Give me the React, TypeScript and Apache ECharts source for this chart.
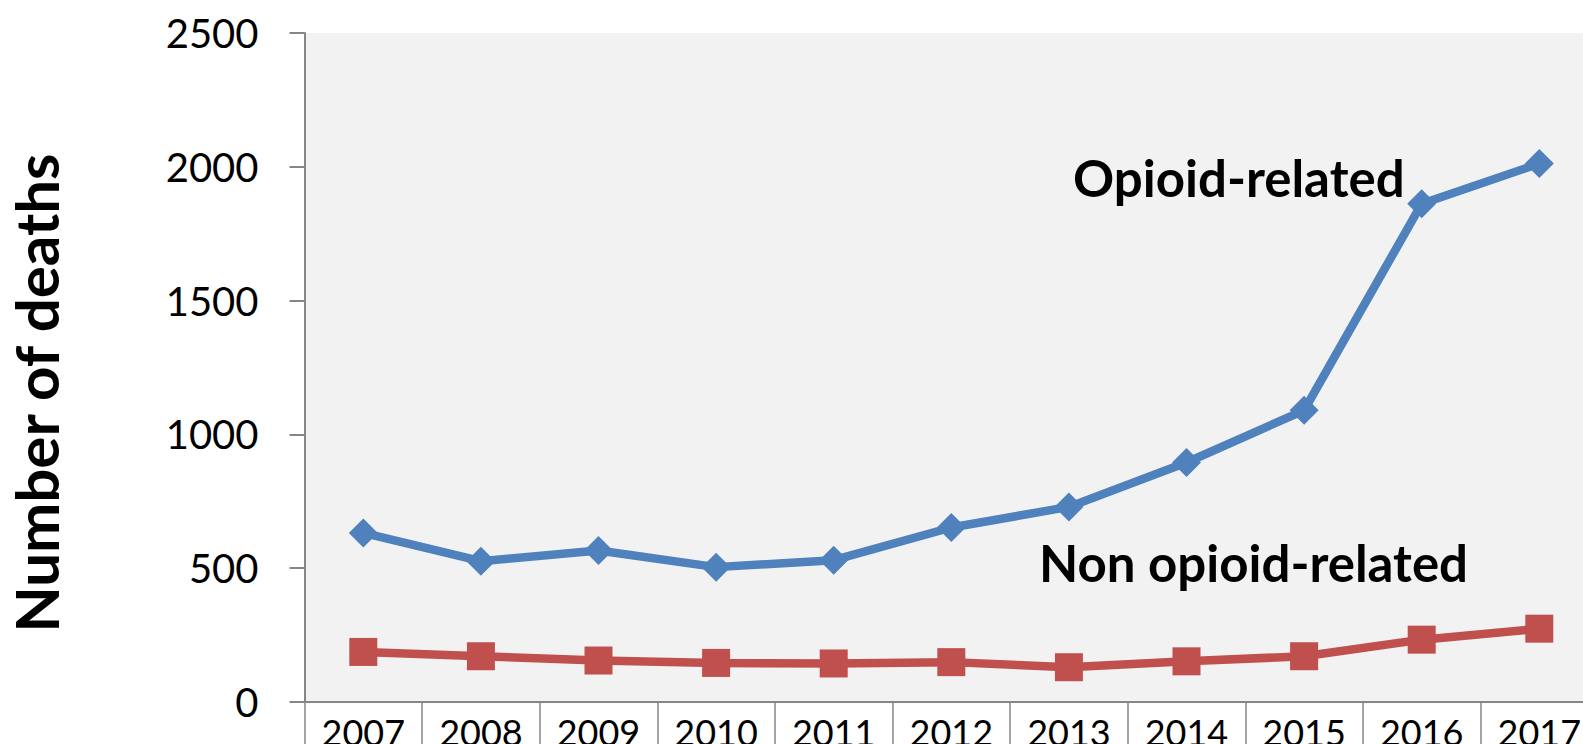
import React, { useEffect, useRef } from "react";
import * as echarts from "echarts";

const years = ["2007", "2008", "2009", "2010", "2011", "2012", "2013", "2014", "2015", "2016", "2017"];
const opioidDeaths = [632, 526, 566, 504, 530, 652, 729, 895, 1090, 1862, 2012];
const nonOpioidDeaths = [187, 171, 155, 146, 144, 149, 130, 152, 171, 233, 274];
const yTicks = { min: 0, max: 2500, interval: 500 };
const axisTitle = "Number of deaths";
const opioidLabel = "Opioid-related";
const nonOpioidLabel = "Non opioid-related";

export default function App() {
  const ref = useRef<HTMLDivElement>(null);
  useEffect(() => {
    if (!ref.current) return;
    const chart = echarts.init(ref.current, undefined, { renderer: "svg" });
    const axisColor = "#868686";
    chart.setOption({
      animation: false,
      backgroundColor: "#ffffff",
      grid: {
        left: 304.5,
        top: 33,
        width: 1293.6,
        height: 669,
        show: true,
        backgroundColor: "#f2f2f2",
        borderWidth: 0,
        containLabel: false,
        outerBoundsMode: "none",
      },
      xAxis: {
        type: "category",
        data: years,
        boundaryGap: true,
        axisLine: { show: true, lineStyle: { color: axisColor, width: 2 } },
        axisTick: { show: true, interval: 0, length: 50, lineStyle: { color: axisColor, width: 1.5 } },
        axisLabel: { interval: 0, margin: 12, fontSize: 36, color: "#000", fontFamily: "Lato" },
        splitLine: { show: false },
      },
      yAxis: {
        type: "value",
        min: yTicks.min,
        max: yTicks.max,
        interval: yTicks.interval,
        axisLine: { show: true, lineStyle: { color: axisColor, width: 2 } },
        axisTick: { show: true, length: 15, lineStyle: { color: axisColor, width: 2 } },
        axisLabel: {
          margin: 46,
          fontSize: 40,
          color: "#000",
          fontFamily: "Lato",
          formatter: (v: number) => String(v),
        },
        splitLine: { show: false },
      },
      series: [
        {
          type: "line",
          name: opioidLabel,
          data: opioidDeaths,
          symbol: "diamond",
          symbolSize: 29,
          lineStyle: { color: "#4F81BD", width: 8.5 },
          itemStyle: { color: "#4F81BD" },
          z: 3,
        },
        {
          type: "line",
          name: nonOpioidLabel,
          data: nonOpioidDeaths,
          symbol: "rect",
          symbolSize: 28,
          lineStyle: { color: "#C0504D", width: 8.5 },
          itemStyle: { color: "#C0504D" },
          z: 2,
        },
      ],
      graphic: [
        {
          type: "text",
          x: 36,
          y: 393,
          rotation: Math.PI / 2,
          style: {
            text: axisTitle,
            font: "bold 60px Lato",
            fill: "#000",
            textAlign: "center",
            textVerticalAlign: "middle",
          },
        },
        {
          type: "text",
          x: 1073,
          y: 177,
          style: {
            text: opioidLabel,
            font: "bold 51px Lato",
            fill: "#000",
            textAlign: "left",
            textVerticalAlign: "middle",
          },
        },
        {
          type: "text",
          x: 1039,
          y: 562,
          style: {
            text: nonOpioidLabel,
            font: "bold 51px Lato",
            fill: "#000",
            textAlign: "left",
            textVerticalAlign: "middle",
          },
        },
      ],
    });
    return () => chart.dispose();
  }, []);
  return (
    <div
      ref={ref}
      style={{ position: "fixed", left: 0, top: 0, width: 1583, height: 744, background: "#fff" }}
    />
  );
}
